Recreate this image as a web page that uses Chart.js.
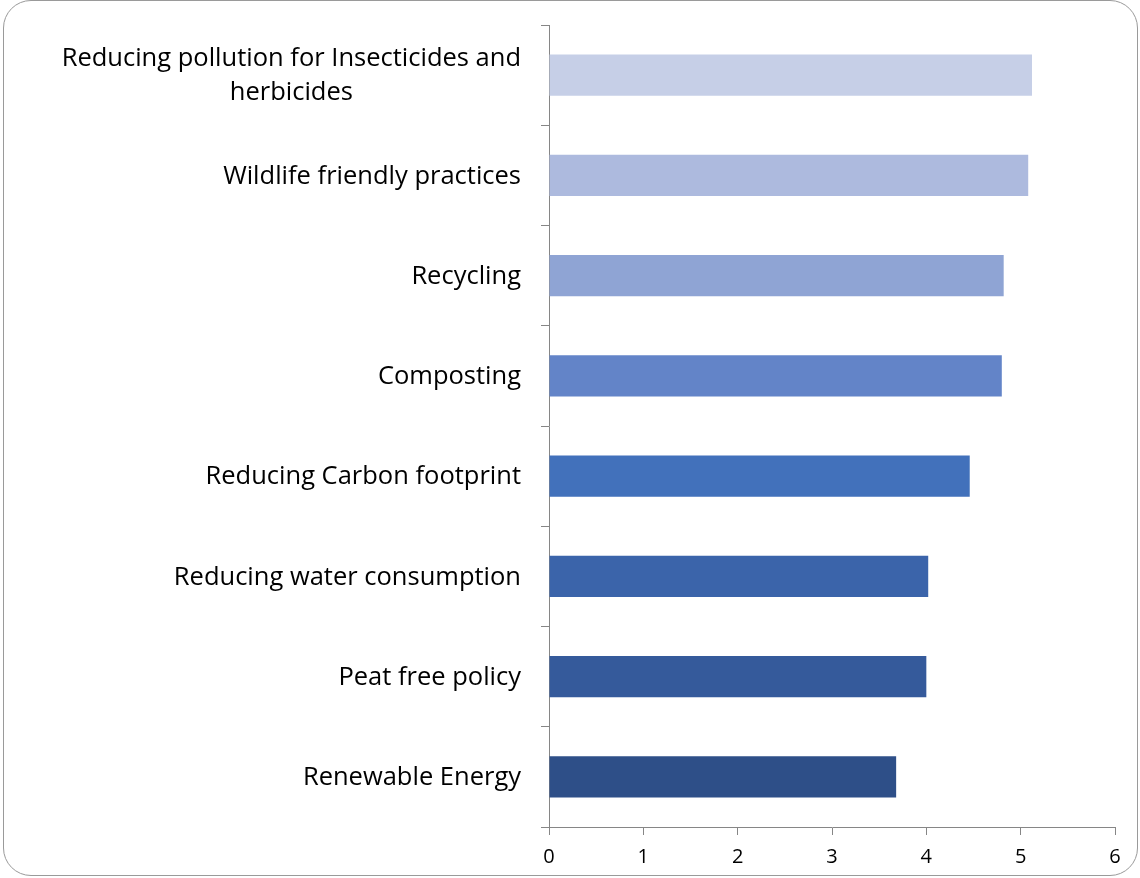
<!DOCTYPE html>
<html>
<head>
<meta charset="utf-8">
<script src="https://cdn.jsdelivr.net/npm/chart.js@4.4.0/dist/chart.umd.min.js"></script>
<style>
html,body{margin:0;padding:0;background:#fff;}
#wrap{position:relative;width:1140px;height:878px;overflow:hidden;}
#frame{position:absolute;left:3px;top:0px;width:1133px;height:874px;border:1.5px solid #9a9a9a;border-radius:28px;}
canvas{position:absolute;left:0;top:0;}
</style>
</head>
<body>
<div id="wrap"><div id="frame"></div><canvas id="c" width="1140" height="878"></canvas></div>
<script>
const categories = [
  ["Reducing pollution for Insecticides and", "herbicides"],
  "Wildlife friendly practices",
  "Recycling",
  "Composting",
  "Reducing Carbon footprint",
  "Reducing water consumption",
  "Peat free policy",
  "Renewable Energy"
];
const values = [5.12, 5.08, 4.82, 4.80, 4.46, 4.02, 4.00, 3.68];
const barColors = ["#c6cfe7", "#adbade", "#8fa4d4", "#6384c8", "#4271bb", "#3b64aa", "#355a9b", "#2e4f88"];
const xTicks = [0, 1, 2, 3, 4, 5, 6];

const AXIS = "#868686";
const LABEL_FONT = "25.5px 'Open Sans'";
const LINE_H = 34;

const labelPlugin = {
  id: "centeredLabels",
  afterDraw(chart) {
    const ys = chart.scales.y;
    const ctx = chart.ctx;
    ctx.save();
    ctx.font = LABEL_FONT;
    ctx.fillStyle = "#000";
    ctx.textAlign = "center";
    ctx.textBaseline = "middle";
    const right = ys.right - 28;
    categories.forEach((lab, i) => {
      const lines = Array.isArray(lab) ? lab : [lab];
      const w = Math.max(...lines.map(l => ctx.measureText(l).width));
      const cx = right - w / 2;
      const y0 = ys.getPixelForTick(i);
      const n = lines.length;
      lines.forEach((l, j) => ctx.fillText(l, cx, y0 + 1 + (j - (n - 1) / 2) * LINE_H));
    });
    ctx.restore();
  }
};

new Chart(document.getElementById("c"), {
  type: "bar",
  data: {
    labels: categories,
    datasets: [{
      data: values,
      backgroundColor: barColors,
      borderWidth: 0,
      barPercentage: 0.41,
      categoryPercentage: 1.0
    }]
  },
  options: {
    indexAxis: "y",
    responsive: false,
    animation: false,
    devicePixelRatio: 1,
    layout: { padding: { top: 25, right: 25, bottom: 0, left: 0 } },
    plugins: { legend: { display: false }, tooltip: { enabled: false } },
    scales: {
      x: {
        min: 0, max: 6,
        afterBuildTicks(scale) { scale.ticks = xTicks.map(v => ({ value: v })); },
        afterFit(scale) { scale.height = 51; },
        grid: { drawOnChartArea: false, drawTicks: true, tickLength: 8, color: AXIS },
        border: { display: true, color: AXIS, width: 1 },
        ticks: { color: "#000", font: { family: "'Open Sans'", size: 20 }, padding: 10, maxRotation: 0 }
      },
      y: {
        afterFit(scale) { scale.width = 549; },
        grid: { drawOnChartArea: false, drawTicks: true, tickLength: 8, color: AXIS, offset: true },
        border: { display: true, color: AXIS, width: 1 },
        ticks: { color: "rgba(0,0,0,0)", font: { family: "'Open Sans'", size: 24 } }
      }
    }
  },
  plugins: [labelPlugin]
});
</script>
</body>
</html>
